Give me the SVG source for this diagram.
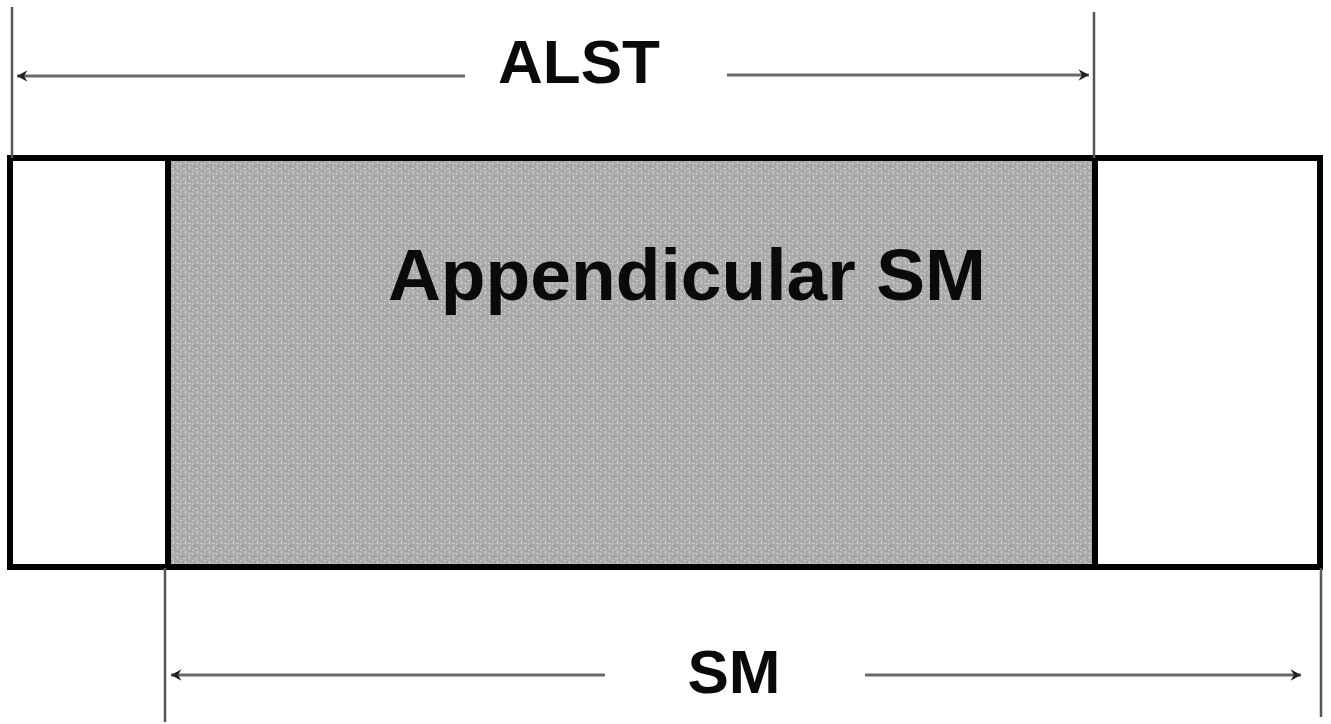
<svg xmlns="http://www.w3.org/2000/svg" width="1331" height="724" viewBox="0 0 1331 724">
<style>
.lbl{font-family:"Liberation Sans",Arial,sans-serif;font-weight:bold;fill:#0a0a0a}
.ext{stroke:#555;stroke-width:2.5;fill:none}
.dim{stroke:#6a6a6a;stroke-width:3;fill:none}
.box{stroke:#000;stroke-width:6;fill:none}
</style>
<defs>
<pattern id="tex" width="12" height="10" patternUnits="userSpaceOnUse">
<rect width="12" height="10" fill="#ababab"/>
<rect x="0" y="0" width="2" height="1" fill="#cdcdcd"/>
<rect x="5" y="1" width="1" height="3" fill="#d4d4d4"/>
<rect x="8" y="3" width="3" height="1" fill="#c8c8c8"/>
<rect x="2" y="5" width="1" height="2" fill="#939393"/>
<rect x="9" y="6" width="1" height="3" fill="#d6d6d6"/>
<rect x="3" y="8" width="3" height="1" fill="#cfcfcf"/>
<rect x="7" y="8" width="1" height="1" fill="#8e8e8e"/>
<rect x="10" y="1" width="1" height="1" fill="#939393"/>
<rect x="0" y="3" width="1" height="2" fill="#cacaca"/>
</pattern>
<marker id="ah" viewBox="0 0 12 12" refX="11" refY="6" markerWidth="14" markerHeight="14" markerUnits="userSpaceOnUse" orient="auto-start-reverse">
<path d="M2,1 L11,6 L2,11 L5,6 Z" fill="#222"/>
</marker>
</defs>
<g id="body">
<rect x="168" y="158" width="927" height="409" fill="url(#tex)"/>
<rect class="box" x="10" y="158" width="1310" height="409"/>
<line class="box" x1="168" y1="158" x2="168" y2="567"/>
<line class="box" x1="1095" y1="158" x2="1095" y2="567"/>
<text class="lbl" x="388" y="300" font-size="72" textLength="598" lengthAdjust="spacingAndGlyphs">Appendicular SM</text>
</g>
<g id="connectors">
<line class="ext" x1="12" y1="7" x2="12" y2="158"/>
<line class="ext" x1="1094" y1="12" x2="1094" y2="158"/>
<line class="ext" x1="165" y1="568" x2="165" y2="722"/>
<line class="ext" x1="1321" y1="568" x2="1321" y2="717"/>
<line class="dim" x1="465" y1="76" x2="17" y2="76" marker-end="url(#ah)"/>
<line class="dim" x1="727" y1="75" x2="1089" y2="75" marker-end="url(#ah)"/>
<line class="dim" x1="605" y1="675" x2="171" y2="675" marker-end="url(#ah)"/>
<line class="dim" x1="865" y1="675" x2="1301" y2="675" marker-end="url(#ah)"/>
</g>
<g id="labels">
<text class="lbl" x="579" y="83" font-size="62" text-anchor="middle">ALST</text>
<text class="lbl" x="734" y="693" font-size="62" text-anchor="middle">SM</text>
</g>
</svg>
